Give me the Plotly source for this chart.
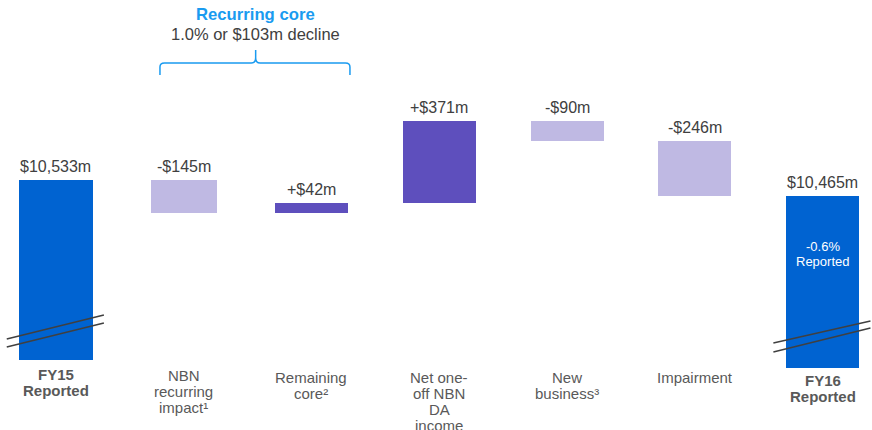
import plotly.graph_objects as go

# ---------------- data ----------------
CATEGORIES = [
    "FY15<br>Reported",
    "NBN<br>recurring<br>impact¹",
    "Remaining<br>core²",
    "Net one-<br>off NBN<br>DA<br>income",
    "New<br>business³",
    "Impairment",
    "FY16<br>Reported",
]
FY15_TOTAL = 10533
CHANGES = [-145, 42, 371, -90, -246]
FY16_TOTAL = 10465
VALUE_LABELS = ["$10,533m", "-$145m", "+$42m", "+$371m", "-$90m", "-$246m", "$10,465m"]
TOTAL_NOTE = ["-0.6%", "Reported"]
BRACKET_TITLE = "Recurring core"
BRACKET_SUB = "1.0% or $103m decline"

# ---------------- style ----------------
FONT = "Liberation Sans, Arial, sans-serif"
C_TOTAL = "#0063D1"
C_UP = "#5E4FBD"
C_DOWN = "#BFB9E3"
C_BLUE = "#1A9BF0"
C_VAL = "#404040"
C_CAT = "#595959"
FLOOR_LEFT = 9724      # visual floor of broken-axis total bars
FLOOR_RIGHT = 9688
Y_RANGE = [9408.7, 11345.6]
X_RANGE = [-0.438, 6.387]

n = len(CATEGORIES)
X = list(range(n))

bases, heights, colors = [], [], []
bases.append(FLOOR_LEFT)
heights.append(FY15_TOTAL - FLOOR_LEFT)
colors.append(C_TOTAL)
running = FY15_TOTAL
for ch in CHANGES:
    if ch < 0:
        bases.append(running + ch)
        heights.append(-ch)
        colors.append(C_DOWN)
    else:
        bases.append(running)
        heights.append(ch)
        colors.append(C_UP)
    running += ch
bases.append(FLOOR_RIGHT)
heights.append(FY16_TOTAL - FLOOR_RIGHT)
colors.append(C_TOTAL)
tops = [b + h for b, h in zip(bases, heights)]

widths = [0.575, 0.52, 0.565, 0.571, 0.571, 0.571, 0.571]

fig = go.Figure(go.Bar(
    x=X, y=heights, base=bases, width=widths,
    marker=dict(color=colors, line=dict(width=0)),
    hoverinfo="skip",
))

ann = []
for i in range(n):
    ann.append(dict(x=X[i], y=tops[i], xref="x", yref="y", text=VALUE_LABELS[i],
                    showarrow=False, yanchor="bottom", yshift=3,
                    font=dict(family=FONT, size=16, color=C_VAL)))

floors = [FLOOR_LEFT] + [FLOOR_LEFT] * (n - 2) + [FLOOR_RIGHT]
first_shift = [14] + [17] * (n - 2) + [13]
first_shift[1] = 15
for i, cat in enumerate(CATEGORIES):
    bold = i in (0, n - 1)
    for j, line in enumerate(cat.split("<br>")):
        txt = f"<b>{line}</b>" if bold else line
        ann.append(dict(x=X[i], y=floors[i], xref="x", yref="y", text=txt,
                        showarrow=False, yanchor="middle",
                        yshift=-(first_shift[i] + 16 * j),
                        font=dict(family=FONT, size=15, color=C_CAT)))

for j, line in enumerate(TOTAL_NOTE):
    ann.append(dict(x=X[-1], y=tops[-1], xref="x", yref="y", text=line,
                    showarrow=False, yanchor="middle", yshift=-(51 + 15 * j),
                    font=dict(family=FONT, size=13, color="white")))

BX_MID = 1.563
ann.append(dict(x=BX_MID, y=1 - 14 / 430, xref="x", yref="paper",
                text=f"<b>{BRACKET_TITLE}</b>", showarrow=False, yanchor="middle",
                font=dict(family=FONT, size=16.7, color=C_BLUE)))
ann.append(dict(x=BX_MID, y=1 - 34 / 430, xref="x", yref="paper",
                text=BRACKET_SUB, showarrow=False, yanchor="middle",
                font=dict(family=FONT, size=16.5, color=C_VAL)))

shapes = []
def py(p):
    return 1 - p / 430

bx0, bx1 = 0.814, 2.301
r = 0.035
path = (
    f"M {bx0},{py(75)} L {bx0},{py(67)} Q {bx0},{py(63)} {bx0 + r},{py(63)} "
    f"L {BX_MID - r},{py(63)} Q {BX_MID},{py(63)} {BX_MID},{py(58)} L {BX_MID},{py(50)} "
    f"M {BX_MID},{py(58)} Q {BX_MID},{py(63)} {BX_MID + r},{py(63)} "
    f"L {bx1 - r},{py(63)} Q {bx1},{py(63)} {bx1},{py(67)} L {bx1},{py(75)}"
)
shapes.append(dict(type="path", path=path, xref="x", yref="paper",
                   line=dict(color=C_BLUE, width=1.5)))

break_specs = [(X[0], FLOOR_LEFT, [(95, 203), (59, 167)]),
               (X[-1], FLOOR_RIGHT, [(113, 212), (72, 180)])]
for cx, fl, lines in break_specs:
    for y0, y1 in lines:
        shapes.append(dict(type="line", xref="x", yref="y",
                           x0=cx - 0.385, x1=cx + 0.375, y0=fl + y0, y1=fl + y1,
                           line=dict(color="#404040", width=1.5)))

fig.update_layout(
    width=872, height=430,
    margin=dict(l=0, r=0, t=0, b=0),
    paper_bgcolor="white", plot_bgcolor="white",
    showlegend=False,
    xaxis=dict(visible=False, range=X_RANGE, fixedrange=True),
    yaxis=dict(visible=False, range=Y_RANGE, fixedrange=True),
    annotations=ann, shapes=shapes,
    bargap=0,
)

fig.write_html("out.html", config={"displayModeBar": False})
